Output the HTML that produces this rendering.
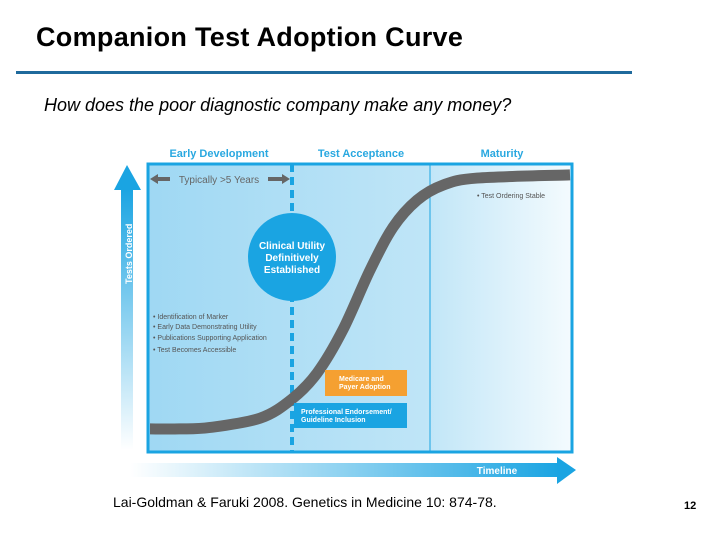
<!DOCTYPE html>
<html><head><meta charset="utf-8"><style>
body{margin:0;width:720px;height:540px;background:#fff;position:relative;overflow:hidden;font-family:"Liberation Sans",sans-serif}
.t{position:absolute;white-space:nowrap}
</style></head><body>
<div class="t" style="left:36px;top:22px;font-size:27px;font-weight:bold;color:#000;letter-spacing:0.3px">Companion Test Adoption Curve</div>
<div style="position:absolute;left:16px;top:71px;width:616px;height:3px;background:#1f6a9c"></div>
<div class="t" style="left:44px;top:95px;font-size:18px;font-style:italic;color:#000">How does the poor diagnostic company make any money?</div>
<svg width="720" height="540" style="position:absolute;left:0;top:0">
<defs>
<linearGradient id="bg" x1="0" x2="1"><stop offset="0" stop-color="#9fd8f3"/><stop offset="0.65" stop-color="#bfe5f7"/><stop offset="1" stop-color="#f4fbfe"/></linearGradient>
<linearGradient id="up" x1="0" y1="1" x2="0" y2="0"><stop offset="0" stop-color="#fff"/><stop offset="1" stop-color="#1aa4e2"/></linearGradient>
<linearGradient id="rt" x1="0" x2="1"><stop offset="0" stop-color="#fff"/><stop offset="1" stop-color="#1aa4e2"/></linearGradient>
</defs>
<rect x="148" y="164" width="424" height="288" fill="url(#bg)" stroke="#1aa4e2" stroke-width="3"/>
<line x1="430" y1="164" x2="430" y2="452" stroke="#1aa4e2" stroke-width="1"/>
<line x1="292" y1="164" x2="292" y2="452" stroke="#1aa4e2" stroke-width="4" stroke-dasharray="8,5"/>
<g id="curve"></g>
<text x="219" y="157" font-size="11" font-weight="bold" fill="#29a8e0" text-anchor="middle">Early Development</text>
<text x="361" y="157" font-size="11" font-weight="bold" fill="#29a8e0" text-anchor="middle">Test Acceptance</text>
<text x="502" y="157" font-size="11" font-weight="bold" fill="#29a8e0" text-anchor="middle">Maturity</text>
<path d="M150 179 L158 174 L158 177 L170 177 L170 181 L158 181 L158 184 Z" fill="#666"/>
<path d="M290 179 L282 174 L282 177 L268 177 L268 181 L282 181 L282 184 Z" fill="#666"/>
<text x="219" y="183" font-size="10" fill="#666" text-anchor="middle">Typically &gt;5 Years</text>
<circle cx="292" cy="257" r="44" fill="#1aa4e2"/>
<text x="292" y="249" font-size="10" font-weight="bold" fill="#fff" text-anchor="middle">Clinical Utility</text>
<text x="292" y="261" font-size="10" font-weight="bold" fill="#fff" text-anchor="middle">Definitively</text>
<text x="292" y="273" font-size="10" font-weight="bold" fill="#fff" text-anchor="middle">Established</text>
<g font-size="7" fill="#555">
<text x="153" y="319">•  Identification of Marker</text>
<text x="153" y="329">•  Early Data Demonstrating Utility</text>
<text x="153" y="340">•  Publications Supporting Application</text>
<text x="153" y="352">•  Test Becomes Accessible</text>
<text x="477" y="198">•  Test Ordering Stable</text>
</g>
<rect x="325" y="370" width="82" height="26" fill="#f5a031"/>
<text x="339" y="381" font-size="7" font-weight="bold" fill="#fff">Medicare and</text>
<text x="339" y="389" font-size="7" font-weight="bold" fill="#fff">Payer Adoption</text>
<rect x="294" y="403" width="113" height="25" fill="#1aa4e2"/>
<text x="301" y="414" font-size="7" font-weight="bold" fill="#fff">Professional Endorsement/</text>
<text x="301" y="422" font-size="7" font-weight="bold" fill="#fff">Guideline Inclusion</text>
<rect x="121" y="188" width="12" height="262" fill="url(#up)"/>
<path d="M114 190 L127 165 L141 190 Z" fill="#1aa4e2"/>
<text transform="translate(132,284) rotate(-90)" font-size="9" font-weight="bold" fill="#fff">Tests Ordered</text>
<rect x="130" y="463" width="430" height="14" fill="url(#rt)"/>
<path d="M557 457 L576 470 L557 484 Z" fill="#1aa4e2"/>
<text x="497" y="474" font-size="10" font-weight="bold" fill="#fff" text-anchor="middle">Timeline</text>
</svg>
<div class="t" style="left:113px;top:494px;font-size:14px;color:#000">Lai-Goldman &amp; Faruki 2008. Genetics in Medicine 10: 874-78.</div>
<div class="t" style="left:684px;top:500px;font-size:11px;font-weight:bold;color:#000">12</div>
<script>
const timeVals=[0,7,14.3,26.2,33.8,39.8,45.9,52.4,57.9,63.6,69.8,77.9,100];
const adoptionVals=[8.3,8.3,8.8,12,18.6,27.6,42.4,63.1,77.9,87.2,92.4,94.8,95.9];
const X=t=>150+t/100*420, Y=v=>453-v/100*290;
const pts=timeVals.map((t,i)=>[X(t),Y(adoptionVals[i])]);
let d=`M${pts[0][0]} ${pts[0][1]}`;
for(let i=0;i<pts.length-1;i++){
 const p0=pts[Math.max(0,i-1)],p1=pts[i],p2=pts[i+1],p3=pts[Math.min(pts.length-1,i+2)];
 d+=` C${p1[0]+(p2[0]-p0[0])/6} ${p1[1]+(p2[1]-p0[1])/6} ${p2[0]-(p3[0]-p1[0])/6} ${p2[1]-(p3[1]-p1[1])/6} ${p2[0]} ${p2[1]}`;
}
const p=document.createElementNS('http://www.w3.org/2000/svg','path');
p.setAttribute('d',d);p.setAttribute('fill','none');p.setAttribute('stroke','#666');p.setAttribute('stroke-width','11');


document.getElementById('curve').appendChild(p);
</script>
</body></html>
